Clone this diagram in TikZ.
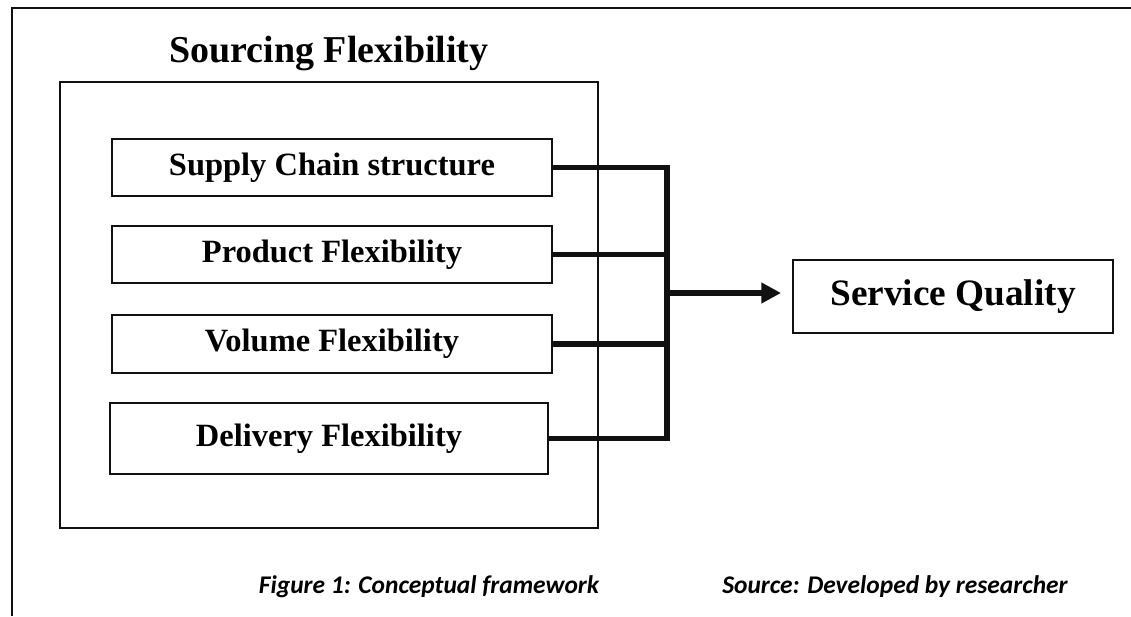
\documentclass[tikz,border=0pt]{standalone}
\usepackage{fontspec}
\setmainfont{Liberation Serif}
\newfontfamily\capfont{Carlito}
\usepackage{tikz}
\usetikzlibrary{arrows.meta, positioning}
\definecolor{ink}{HTML}{111111}

\begin{document}
\begin{tikzpicture}[
  factorbox/.style={draw=ink, line width=1.4pt, minimum width=11cm, minimum height=1.425cm,
    inner sep=0pt, font=\fontsize{23.1}{27}\selectfont\bfseries},
  link/.style={draw=ink, line width=3.6pt},
  capt/.style={anchor=base, font=\capfont\fontsize{18.1}{22}\selectfont\bfseries\itshape}
]
\useasboundingbox (0,0) rectangle (28.275,15.4);
% Page frame
\draw[ink, line width=1.2pt] (0.3,0) -- (0.3,15.2) -- (28.275,15.2);

% Sourcing flexibility group
\node[anchor=base, font=\fontsize{27}{32}\selectfont\bfseries] (title) at (8.225,13.825) {Sourcing Flexibility};
\draw[ink, line width=1.2pt] (1.5,2.2) rectangle (14.95,13.35);
\node[factorbox] (supply) at (8.3,11.2125) {Supply Chain structure};
\node[factorbox] (product) at (8.3,9.0375) {Product Flexibility};
\node[factorbox, minimum height=1.45cm] (volume) at (8.3,6.8) {Volume Flexibility};
\node[factorbox, minimum width=10.95cm, minimum height=1.775cm] (delivery) at (8.225,4.4375) {Delivery Flexibility};

% Outcome
\node[draw=ink, line width=1.4pt, minimum width=8cm, minimum height=1.825cm,
  font=\fontsize{26.5}{31}\selectfont\bfseries] (quality) at (23.825,7.9875) {Service Quality};

% Connectors
\coordinate (bus) at (16.675,8.075);
\draw[link] (supply.east) -- (supply.east -| bus) -- (delivery.east -| bus) -- (delivery.east);
\draw[link] (product.east) -- (product.east -| bus);
\draw[link] (volume.east) -- (volume.east -| bus);
\draw[link, -{Triangle[length=14pt, width=14pt]}, shorten >=7.8pt] (bus) -- (bus -| quality.west);

% Captions
\node[capt] (figcap) at (10.725,0.575) {Figure 1: Conceptual framework};
\node[capt] (srccap) at (22.375,0.575) {Source: Developed by researcher};
\end{tikzpicture}
\end{document}
